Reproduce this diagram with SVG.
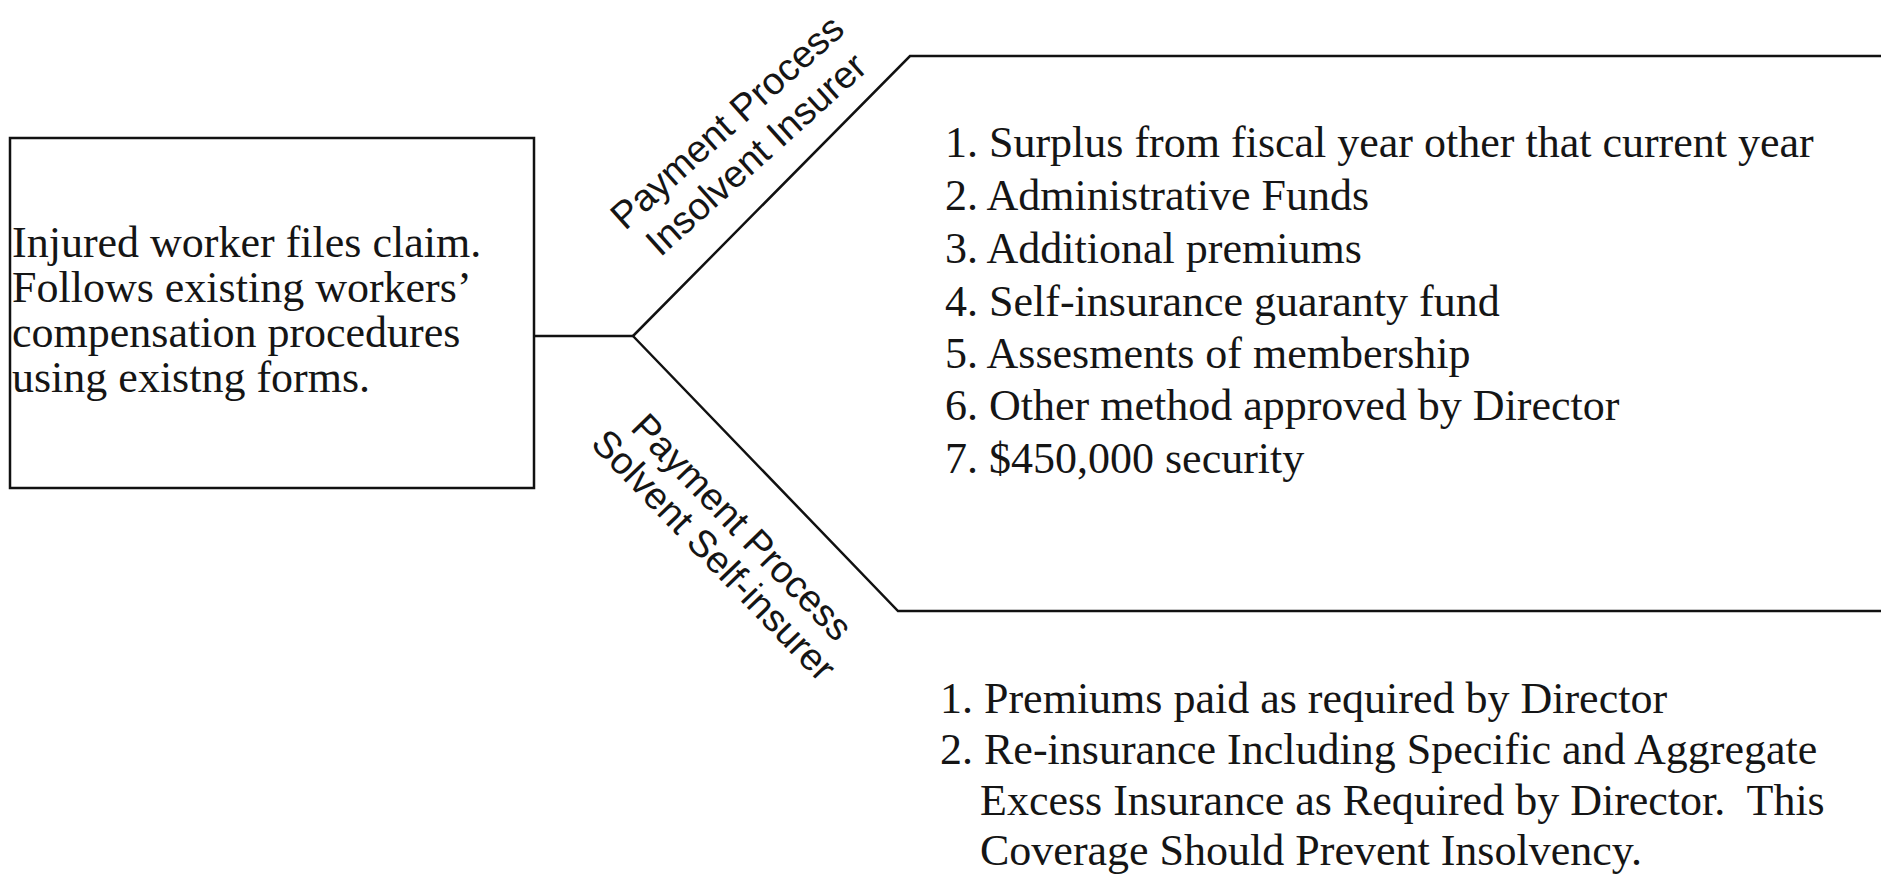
<svg xmlns="http://www.w3.org/2000/svg" width="1881" height="880" viewBox="0 0 1881 880">
<style>
.bg{fill:#ffffff}
.box{fill:none;stroke:#111;stroke-width:2.5}
.ln{fill:none;stroke:#111;stroke-width:2.5}
.serif{font-family:"Liberation Serif","Times New Roman",serif;font-size:44px;fill:#151515}
.sans{font-family:"Liberation Sans",Arial,sans-serif;font-size:38px;fill:#151515}
</style>
<rect class="bg" x="0" y="0" width="1881" height="880"/>
<g id="connectors">
<line class="ln" x1="534" y1="336" x2="633" y2="336"/>
<polyline class="ln" points="633,336 910,56 1881,56"/>
<polyline class="ln" points="633,336 898,611 1881,611"/>
</g>
<g id="claim-box">
<rect class="box" x="10" y="138" width="524" height="350"/>
<text class="serif" x="12" y="257">Injured worker files claim.</text>
<text class="serif" x="12" y="302">Follows existing workers’</text>
<text class="serif" x="12" y="347">compensation procedures</text>
<text class="serif" x="12" y="392">using existng forms.</text>
</g>
<g id="label-insolvent">
<text class="sans" text-anchor="middle" transform="translate(727,122) rotate(-42)" y="13">Payment Process</text>
<text class="sans" text-anchor="middle" transform="translate(756,154) rotate(-42)" y="13">Insolvent Insurer</text>
</g>
<g id="label-solvent">
<text class="sans" text-anchor="middle" transform="translate(742,527) rotate(46)" y="13">Payment Process</text>
<text class="sans" text-anchor="middle" transform="translate(714,555) rotate(46)" y="13">Solvent Self-insurer</text>
</g>
<g id="insolvent-list">
<text class="serif" x="945" y="157">1. Surplus from fiscal year other that current year</text>
<text class="serif" x="945" y="210">2. Administrative Funds</text>
<text class="serif" x="945" y="263">3. Additional premiums</text>
<text class="serif" x="945" y="316">4. Self-insurance guaranty fund</text>
<text class="serif" x="945" y="368">5. Assesments of membership</text>
<text class="serif" x="945" y="420">6. Other method approved by Director</text>
<text class="serif" x="945" y="473">7. $450,000 security</text>
</g>
<g id="solvent-list">
<text class="serif" x="940" y="713">1. Premiums paid as required by Director</text>
<text class="serif" x="940" y="764">2. Re-insurance Including Specific and Aggregate</text>
<text class="serif" x="980" y="815">Excess Insurance as Required by Director.&#160; This</text>
<text class="serif" x="980" y="865">Coverage Should Prevent Insolvency.</text>
</g>
</svg>
